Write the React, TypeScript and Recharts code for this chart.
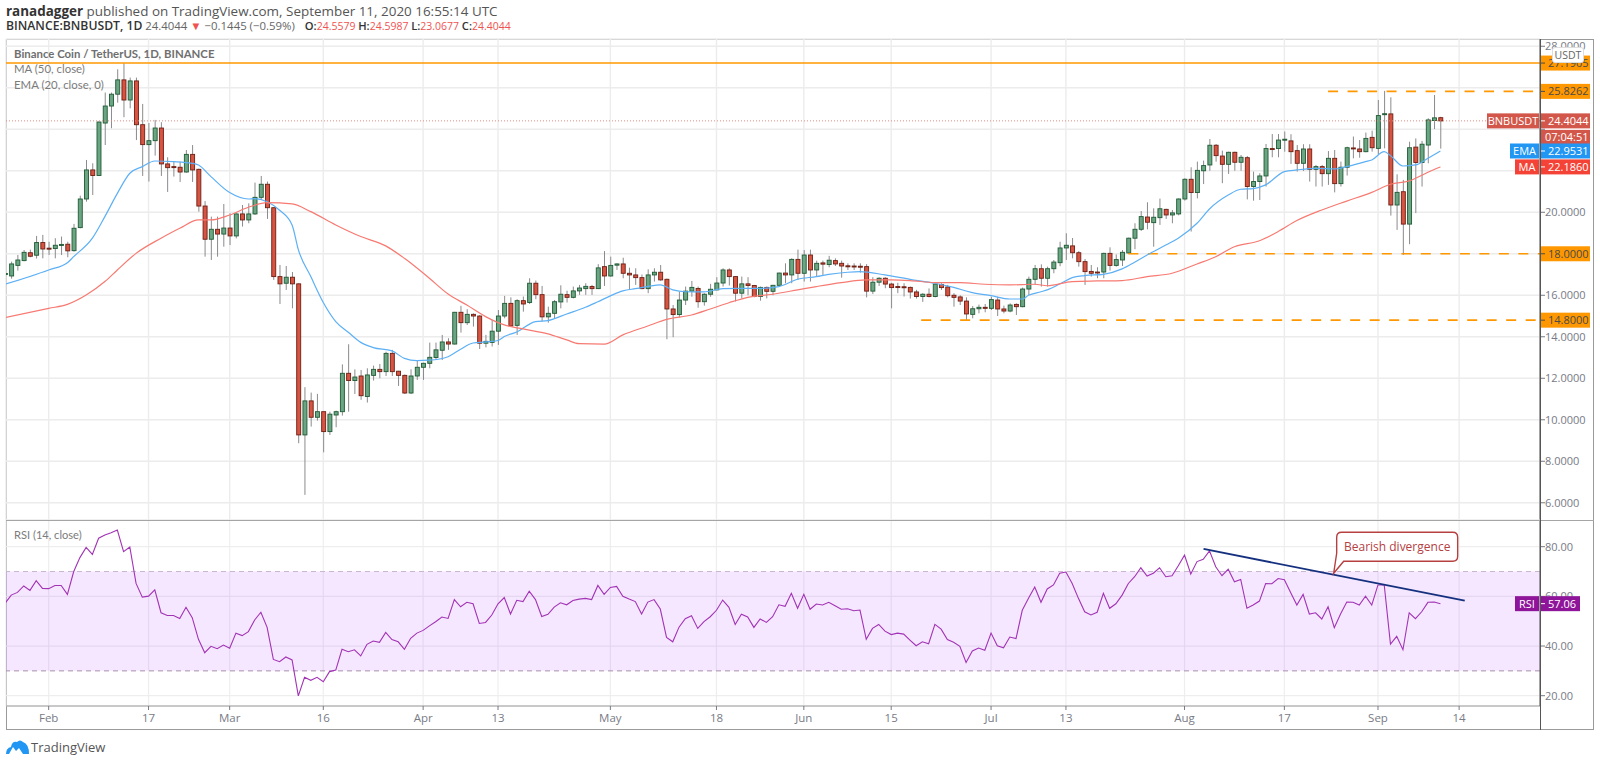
import React from "react";
import { ComposedChart, Bar, Line, XAxis, YAxis, CartesianGrid, ReferenceLine, ReferenceArea, ReferenceDot } from "recharts";

const FONT = "'Open Sans', 'Noto Sans', sans-serif";
const LEGEND_FONT = "Lato, 'Open Sans', sans-serif";
const firstDay = -7;
const xDomain: [number, number] = [-6.84, 238.96];
const priceDomain: [number, number] = [5.17, 28.35];
const rsiDomain: [number, number] = [15.85, 90.75];
const tickDays = [0, 16, 29, 44, 60, 72, 90, 107, 121, 135, 151, 163, 182, 198, 213, 226];
const tickLabels = ["Feb", "17", "Mar", "16", "Apr", "13", "May", "18", "Jun", "15", "Jul", "13", "Aug", "17", "Sep", "14"];
const priceTicks = [6, 8, 10, 12, 14, 16, 18, 20, 22, 24, 26, 28];
const coveredPriceTicks = [18, 22, 24, 26];
const rsiTicks = [20, 40, 60, 80];

const opens = [17.0,
  16.93,17.44,17.67,18.05,17.93,18.54,
  18.27,18.25,18.42,18.46,18.15,19.26,20.64,22.04,21.77,24.30,
  25.12,25.69,26.38,25.41,26.33,24.22,23.26,23.45,24.06,22.33,
  22.20,22.17,21.94,22.79,22.07,20.30,18.70,19.18,18.95,19.24,
  18.86,19.92,19.63,19.92,20.72,21.35,20.22,16.90,16.58,16.87,
  16.55,9.27,10.91,10.12,10.39,9.43,10.23,10.39,12.24,11.89,
  12.11,11.12,12.14,12.43,12.32,13.2,12.34,12.14,11.29,12.11,
  12.53,12.72,13.0,13.35,13.75,13.65,15.18,14.68,15.08,15.0,
  13.69,13.73,14.27,15.0,15.61,14.55,15.74,15.65,16.58,16.03,
  14.96,15.13,15.68,16.03,15.9,16.21,16.32,16.42,16.32,17.38,
  16.93,17.45,17.51,17.06,16.98,16.85,16.32,16.98,17.11,16.77,
  15.34,15.07,15.77,16.2,16.33,15.69,16.05,16.26,16.59,17.22,
  16.9,16.1,16.55,16.47,15.94,16.38,16.19,16.48,17.07,16.98,
  17.73,17.06,17.94,17.22,17.56,17.48,17.67,17.54,17.42,17.41,
  17.4,17.38,16.2,16.63,16.82,16.54,16.42,16.41,16.38,16.16,
  15.94,16.05,15.94,16.52,16.4,16.0,15.92,15.72,15.08,15.35,
  15.42,15.37,15.77,15.34,15.24,15.56,15.45,16.3,16.77,17.28,
  16.82,17.28,17.57,18.28,18.38,18.05,17.62,17.15,17.12,17.12,
  18.02,17.44,17.7,18.04,18.75,19.18,19.77,19.5,19.74,20.14,
  19.87,19.92,20.64,21.59,20.95,22.0,22.28,23.23,22.71,22.31,
  22.89,22.41,22.63,21.24,21.48,21.75,23.07,23.07,23.48,23.44,
  22.97,22.36,23.05,22.07,22.2,21.86,22.6,21.38,22.17,23.1,
  23.05,22.92,23.61,23.08,24.72,24.74,20.35,20.99,19.43,23.14,
  22.4,23.24,24.42,24.5579];

const closes = [17.05,
  17.51,17.70,18.07,17.88,18.54,18.23,
  18.25,18.41,18.45,18.14,19.23,20.64,22.04,21.77,24.35,25.12,
  25.69,26.38,25.41,26.33,24.22,23.26,23.45,24.06,22.33,22.15,
  22.17,21.94,22.79,22.04,20.30,18.70,19.18,18.95,19.24,18.86,
  19.92,19.63,19.92,20.72,21.35,20.22,16.90,16.55,16.87,16.55,
  9.27,10.91,10.12,10.39,9.43,10.27,10.39,12.24,11.89,12.06,
  11.16,12.16,12.43,12.32,13.2,12.32,12.14,11.29,12.11,12.53,
  12.72,13.01,13.37,13.75,13.65,15.18,14.68,15.08,15.0,13.69,
  13.78,14.27,15.0,15.61,14.52,15.74,15.58,16.58,16.03,14.96,
  15.13,15.69,16.05,15.9,16.21,16.35,16.43,16.32,17.32,16.93,
  17.44,17.51,17.06,16.98,16.85,16.32,16.98,17.11,16.74,15.34,
  15.07,15.77,16.2,16.38,15.69,16.05,16.29,16.59,17.22,16.9,
  16.1,16.55,16.47,15.94,16.38,16.19,16.48,17.07,16.98,17.73,
  17.06,17.94,17.22,17.54,17.5,17.69,17.51,17.41,17.4,17.4,
  17.38,16.2,16.63,16.82,16.54,16.37,16.38,16.38,16.16,15.94,
  16.05,15.94,16.54,16.37,15.98,15.9,15.72,15.1,15.35,15.42,
  15.37,15.79,15.34,15.24,15.53,15.45,16.3,16.77,17.28,16.82,
  17.28,17.6,18.28,18.41,18.05,17.62,17.14,17.06,17.08,18.02,
  17.44,17.72,18.07,18.75,19.18,19.79,19.52,19.76,20.17,19.87,
  19.97,20.64,21.59,20.95,22.02,22.25,23.23,22.73,22.31,22.89,
  22.41,22.65,21.24,21.48,21.75,23.07,23.05,23.48,23.52,22.92,
  22.36,23.05,22.07,22.2,21.86,22.6,21.38,22.17,23.11,23.08,
  22.92,23.56,23.11,24.66,24.75,20.35,20.96,19.43,23.11,22.4,
  23.28,24.45,24.55,24.4044];

const highs = [17.15,
  17.62,17.94,18.18,18.2,18.86,18.91,
  18.58,18.75,18.83,18.58,19.44,20.80,22.52,22.36,24.37,25.77,
  25.77,26.89,27.18,26.49,26.49,25.22,24.3,24.45,24.34,22.65,
  22.44,22.44,23.0,23.24,22.1,20.54,19.79,19.79,20.4,19.95,
  19.95,20.35,20.43,21.43,21.75,21.48,20.25,17.46,17.41,17.12,
  16.58,11.57,11.31,11.25,10.4,10.39,10.44,12.67,13.64,12.43,
  12.40,12.48,12.61,12.69,13.28,13.37,12.36,12.18,12.43,12.88,
  12.75,13.72,13.72,14.09,13.93,15.2,15.49,15.33,15.13,15.04,
  14.09,14.81,15.29,15.97,15.9,15.81,15.94,16.82,16.71,16.45,
  15.45,15.77,16.48,16.22,16.42,16.5,16.58,16.5,17.5,18.13,
  17.86,17.54,17.81,17.33,17.3,17.0,17.25,17.3,17.46,16.8,
  15.53,16.17,16.42,16.69,16.42,16.1,16.55,16.87,17.3,17.3,
  16.93,16.9,16.87,16.5,16.42,16.42,16.5,17.09,17.54,17.78,
  18.2,18.18,18.2,17.67,17.67,17.9,17.78,17.67,17.54,17.54,
  17.54,17.5,16.87,16.87,16.87,16.6,16.6,16.58,16.42,16.26,
  16.1,16.33,16.58,16.58,16.5,16.1,16.0,15.9,15.48,15.55,
  15.58,15.93,15.93,15.5,15.61,15.61,16.37,16.9,17.46,17.49,
  17.38,17.7,18.58,18.99,18.76,18.13,17.75,17.46,17.35,18.05,
  18.31,17.97,18.18,18.78,19.47,20.06,20.48,20.19,20.66,20.17,
  20.11,20.67,21.64,22.17,22.44,22.49,23.53,23.29,22.97,22.92,
  22.92,22.76,22.71,21.96,21.88,23.29,23.77,23.77,23.89,23.76,
  23.24,23.28,23.28,22.28,22.28,22.95,23.0,22.44,23.16,23.65,
  23.48,23.84,23.93,25.41,25.85,25.54,21.83,21.56,23.4,23.56,
  23.44,24.53,25.65,24.5987];

const lows = [16.9,
  16.80,17.19,17.64,17.83,17.77,17.78,
  17.94,17.78,17.94,17.83,18.10,19.23,20.51,20.83,21.75,23.24,
  24.05,25.28,24.58,25.01,23.48,21.75,21.48,22.73,21.75,20.98,
  21.72,21.46,21.91,21.46,20.03,17.86,17.70,17.86,18.34,18.42,
  18.74,19.31,19.47,19.87,20.59,19.68,16.74,15.58,16.26,15.37,
  8.87,6.38,9.67,9.96,8.43,9.27,9.64,10.2,10.39,11.24,
  10.96,10.83,11.89,12.0,12.11,12.11,11.63,11.24,11.24,11.92,
  11.92,12.48,12.88,12.88,13.37,13.63,14.2,14.57,14.49,13.41,
  13.49,13.53,13.61,14.89,14.49,14.09,15.21,15.58,15.81,14.73,
  14.68,14.89,15.37,15.65,15.85,16.02,16.02,16.02,16.3,16.45,
  16.90,17.22,16.82,16.26,16.5,16.29,16.1,16.66,16.7,13.88,
  13.98,14.94,15.53,15.93,15.4,15.5,15.93,16.24,16.42,16.47,
  15.7,15.85,16.0,15.9,15.74,15.85,16.0,16.42,16.58,16.58,
  16.74,16.66,16.66,16.9,16.98,17.35,17.41,16.85,17.22,17.22,
  17.09,15.9,16.06,16.45,16.34,15.37,16.1,15.94,15.84,15.84,
  15.68,15.9,15.9,16.26,15.9,15.45,15.53,14.81,14.89,15.13,
  15.18,15.29,15.0,15.13,15.18,15.05,15.42,16.0,16.5,16.42,
  16.42,17.06,17.4,17.7,17.78,17.38,16.5,16.9,16.82,16.82,
  17.19,17.38,17.41,17.99,18.22,19.1,19.18,18.34,19.39,19.68,
  19.47,19.85,20.56,19.07,20.67,21.36,22.0,22.44,21.4,21.85,
  22.0,22.0,20.62,20.56,20.59,21.24,22.65,22.65,22.92,22.33,
  21.96,21.99,21.48,21.24,21.24,21.32,20.96,21.24,21.77,22.6,
  22.63,22.89,22.92,22.79,23.08,19.84,19.15,17.94,18.46,19.96,
  21.24,22.36,24.01,23.0677];

const rsiValues = [57.2,
  60.5,61.6,64.2,62.4,66.3,63.2,
  63.1,64.4,64.4,60.8,69.9,75.6,79.7,76.9,83.4,84.7,
  85.6,86.7,78,79.9,65.2,59.7,60.1,62.6,53.4,52.3,
  52.3,51.1,55.6,51.4,42.7,37.3,39.9,38.9,40.4,39.1,
  45.2,44.2,45.8,50.5,53.6,47.5,34.6,33.7,35.6,34.4,
  19.9,27.4,26.2,27.4,25.6,29.7,30.3,38.7,37.7,38.5,
  36,40.7,42,41.5,45.5,42.6,41.7,38.7,43.1,45.2,
  46.3,48.1,49.8,51.7,51.1,58.7,55.8,57.6,57,49.1,
  49.5,52.5,57,59.5,52.9,58.4,57.9,62.1,58.7,51.9,
  52.8,55.7,57.4,56.6,58.3,58.9,59.2,58.7,64.4,60.8,
  63.6,64,60,58.9,57.9,52.9,57.7,58.7,54.9,43.5,
  41.7,47.6,51,52.2,47.1,49.8,51.8,54.4,58.5,55.6,
  48.7,52.8,51.7,47.5,50.9,49.5,51.8,56.6,56,61.2,
  55.2,60.8,54.8,56.9,56.5,57.6,56.2,54.8,55,54.2,
  54.5,42.7,47.1,48.7,46,44.6,45.2,44.8,42.4,40.1,
  41.7,40.9,48.7,46.8,42.6,41.5,39.9,33.4,38,39.2,
  38.3,45.2,40.1,39.3,43.6,43,54.4,59.2,63.8,57.6,
  63,64.6,69.3,69.8,65.2,59.2,53.8,52.5,53.6,61.2,
  55.2,57,60.5,65.2,67.9,71.5,68.2,69.3,71.5,67.9,
  68.3,72.3,76.6,69,74,74.9,78.3,71.9,68.3,70.9,
  65.9,66.8,55.2,56.5,58.1,65.2,65.1,67.2,66.7,61.6,
  56.5,60.8,52.9,53.4,50.9,55.8,47.4,52.9,57.7,57.6,
  56.5,60.1,56.5,64.6,64.6,40.8,43.9,38.5,53.4,51,
  53.8,57.6,57.7,57.06];

const emaDays = [-7,0,3,4,7,9,11,13,15,17,20,23,24,26,29,32,33,35,37,39,40,42,44,46,48,50,52,55,57,59,61,64,66,68,70,72,73,75,78,80,83,86,88,90,92,94,96,98,100,102,105,108,111,114,117,120,123,125,128,130,134,138,142,145,148,151,154,156,157,159,160,162,164,166,169,172,174,176,179,181,184,186,189,191,193,195,198,200,203,206,208,211,212,214,215,217,219,221,223];
const emaValues = [16.53,17.22,17.57,17.86,18.75,19.79,20.91,21.88,22.2,22.47,22.44,22.36,22.28,21.72,20.95,20.64,20.66,20.51,20.1,19.39,18.2,16.9,15.65,14.73,14.22,13.73,13.48,13.32,12.96,12.85,12.87,13.04,13.4,13.7,13.75,13.82,14.01,14.23,14.73,14.78,15.1,15.42,15.69,15.97,16.21,16.32,16.42,16.5,16.26,16.17,16.16,16.32,16.33,16.33,16.42,16.77,16.9,17.01,17.11,17.14,16.98,16.77,16.58,16.38,16.13,15.98,15.82,15.82,16.0,16.17,16.26,16.54,16.85,16.95,17.01,17.27,17.59,17.94,18.42,18.75,19.47,20.16,20.83,21.11,21.14,21.32,21.96,22.04,22.12,22.09,22.2,22.44,22.52,22.92,22.73,22.23,22.28,22.6,22.9531];

const maDays = [-7,0,3,6,9,11,14,18,21,24,26,29,32,35,39,42,46,50,54,57,61,64,67,70,73,76,80,83,85,89,92,96,99,103,106,109,112,116,120,123,127,131,135,138,142,146,150,154,158,160,164,168,172,176,180,184,187,190,194,197,200,204,208,212,215,218,221,223];
const maValues = [14.92,15.37,15.56,16.01,16.66,17.22,18.02,18.75,19.23,19.63,19.63,19.87,20.24,20.46,20.4,20.03,19.39,18.83,18.38,17.78,16.82,16.06,15.53,14.97,14.57,14.38,14.14,13.85,13.67,13.65,14.09,14.52,14.84,15.05,15.34,15.64,15.9,16.05,16.26,16.42,16.61,16.74,16.74,16.71,16.61,16.61,16.53,16.5,16.53,16.46,16.66,16.69,16.71,16.9,17.06,17.51,17.86,18.34,18.63,19.07,19.6,20.11,20.54,20.96,21.35,21.51,21.93,22.186];

const emaByDay = new Map(emaDays.map((d, i) => [d, emaValues[i]]));
const maByDay = new Map(maDays.map((d, i) => [d, maValues[i]]));

const rows = opens.map((open, i) => {
  const d = firstDay + i;
  return { d, open, close: closes[i], high: highs[i], low: lows[i], rsi: rsiValues[i], ema: emaByDay.get(d), ma: maByDay.get(d) };
});

const UP_FILL = "#6ba583", UP_EDGE = "#1f5a34", DOWN_FILL = "#d75442", DOWN_EDGE = "#6d1e13", WICK = "#8b8b8d";

function Candle(props: any) {
  const { x, y, width, height, payload } = props;
  if (!payload || height == null) return null;
  const { open, close, high, low } = payload;
  const cx = x + width / 2;
  const py = (p: number) => y + ((high - p) / (high - low)) * height;
  const top = py(Math.max(open, close));
  const bot = py(Math.min(open, close));
  const up = close >= open;
  return (
    <g>
      <line x1={cx} x2={cx} y1={y} y2={y + height} stroke={WICK} strokeWidth={1} />
      <rect x={cx - 2} y={top} width={4} height={Math.max(bot - top, 1)} fill={up ? UP_FILL : DOWN_FILL} stroke={up ? UP_EDGE : DOWN_EDGE} strokeWidth={0.9} />
    </g>
  );
}

function Tag(p: any) {
  const { cx, cy, text, fill, color = "#fff", left, w = 50, extra } = p;
  const h = 15;
  return (
    <g>
      {left && <rect x={cx - left.w - 1} y={cy - h / 2} width={left.w} height={h} fill={fill} />}
      {left && <text x={cx - left.w / 2 - 1} y={cy + 4} textAnchor="middle" fontSize={11} fontFamily={FONT} fill={color}>{left.text}</text>}
      <rect x={cx} y={cy - h / 2} width={w} height={h} fill={fill} />
      <line x1={cx} x2={cx + 5} y1={cy} y2={cy} stroke={color} strokeWidth={1} />
      <text x={cx + 8} y={cy + 4} fontSize={11} fontFamily={FONT} fill={color}>{text}</text>
      {extra && <rect x={cx} y={cy + h / 2 + 1.5} width={w} height={h} fill={fill} />}
      {extra && <text x={cx + 5} y={cy + h / 2 + 13} fontSize={11} fontFamily={FONT} fill={color}>{extra}</text>}
    </g>
  );
}

function Callout(p: any) {
  const { cx, cy } = p;
  const L = cx + 3, R = cx + 124, T = cy - 41, B = cy - 12, r = 5;
  const d = `M${cx} ${cy} L${L} ${cy - 20} L${L} ${T + r} Q${L} ${T} ${L + r} ${T} L${R - r} ${T} Q${R} ${T} ${R} ${T + r} L${R} ${B - r} Q${R} ${B} ${R - r} ${B} L${cx + 10} ${B} Z`;
  return (
    <g>
      <path d={d} fill="#fff" stroke="#b5403f" strokeWidth={1.4} />
      <text x={(L + R) / 2} y={cy - 22} textAnchor="middle" fontSize={12} fontFamily={FONT} fill="#b5403f">Bearish divergence</text>
    </g>
  );
}

const tickStyle = { fontSize: 11, fontFamily: FONT, fill: "#787b86" };
const xTickStyle = { fontSize: 11.5, fontFamily: FONT, fill: "#787b86" };
const GRID = "#ececec";
const ORANGE = "#ff9800";
const TAG_TEXT = "#4a4a4a";
const xEnd = xDomain[1];
const full: React.CSSProperties = { position: "absolute", left: 0, top: 0 };

function PriceChart() {
  return (
    <ComposedChart width={1600} height={763} data={rows} margin={{ top: 39, right: 6, bottom: 243, left: 6 }} style={full}>
      <CartesianGrid stroke={GRID} strokeWidth={1.4} />
      <XAxis dataKey="d" type="number" domain={xDomain} ticks={tickDays} hide allowDataOverflow interval={0} />
      <YAxis orientation="right" width={54} domain={priceDomain} ticks={priceTicks} interval={0} allowDataOverflow
        tickFormatter={(v: number) => (coveredPriceTicks.includes(v) ? "" : v.toFixed(4))} tick={tickStyle} tickSize={5} tickMargin={0}
        stroke="#555" tickLine={{ stroke: "#787b86" }} />
      <ReferenceLine y={27.1905} stroke={ORANGE} strokeWidth={1.6} />
      <ReferenceLine y={24.4044} stroke="#e58a80" strokeWidth={1} strokeDasharray="1 2" />
      <ReferenceLine segment={[{ x: 205.0, y: 25.8262 }, { x: xEnd, y: 25.8262 }]} stroke={ORANGE} strokeWidth={1.6} strokeDasharray="10 9.5" />
      <ReferenceLine segment={[{ x: 173, y: 18 }, { x: xEnd, y: 18 }]} stroke={ORANGE} strokeWidth={1.6} strokeDasharray="10 9.5" />
      <ReferenceLine segment={[{ x: 139.8, y: 14.8 }, { x: xEnd, y: 14.8 }]} stroke={ORANGE} strokeWidth={1.6} strokeDasharray="10 9.5" />
      <Bar dataKey={(r: any) => [r.low, r.high]} barSize={5} shape={<Candle />} isAnimationActive={false} />
      <Line dataKey="ema" stroke="#5db0f5" strokeWidth={1.2} dot={false} connectNulls isAnimationActive={false} type="monotone" />
      <Line dataKey="ma" stroke="#f77a72" strokeWidth={1.2} dot={false} connectNulls isAnimationActive={false} type="monotone" />
    </ComposedChart>
  );
}

function RsiChart() {
  return (
    <ComposedChart width={1600} height={763} data={rows} margin={{ top: 520, right: 6, bottom: 33, left: 6 }} style={full}>
      <ReferenceArea y1={30} y2={70} fill="#9915ff" fillOpacity={0.1} stroke="none" ifOverflow="visible" />
      <CartesianGrid stroke={GRID} strokeWidth={1.2} strokeOpacity={0.9} />
      <XAxis dataKey="d" type="number" domain={xDomain} ticks={tickDays} interval={0} allowDataOverflow height={24}
        tickFormatter={(v: number) => tickLabels[tickDays.indexOf(v)]} tick={xTickStyle} tickSize={4} tickMargin={4}
        stroke="#9a9a9a" tickLine={{ stroke: "#787b86" }} />
      <YAxis orientation="right" width={54} domain={rsiDomain} ticks={rsiTicks} interval={0} allowDataOverflow
        tickFormatter={(v: number) => v.toFixed(2)} tick={tickStyle} tickSize={5} tickMargin={0}
        stroke="#555" tickLine={{ stroke: "#787b86" }} />
      <ReferenceLine y={70} stroke="#c9b6d0" strokeDasharray="5 4" />
      <ReferenceLine y={30} stroke="#a98fb0" strokeDasharray="5 4" />
      <Line dataKey="rsi" stroke="#a233b5" strokeWidth={1.1} dot={false} isAnimationActive={false} type="linear" />
      <ReferenceLine segment={[{ x: 185.05, y: 79.1 }, { x: 226.9, y: 58.3 }]} stroke="#14307e" strokeWidth={1.8} />
      <ReferenceDot x={205.9} y={69.3} r={0} ifOverflow="visible" shape={(p: any) => <Callout {...p} />} />
    </ComposedChart>
  );
}

// Price tags sit above the axis labels, so they get their own top layer on the same scales.
function PriceTags() {
  return (
    <ComposedChart width={1600} height={763} data={rows} margin={{ top: 39, right: 60, bottom: 243, left: 6 }} style={full}>
      <XAxis dataKey="d" type="number" domain={xDomain} hide allowDataOverflow />
      <YAxis domain={priceDomain} hide allowDataOverflow />
      <ReferenceDot x={xEnd} y={27.1905} r={0} ifOverflow="visible" shape={(p: any) => <Tag {...p} text="27.1905" fill={ORANGE} color={TAG_TEXT} />} />
      <ReferenceDot x={xEnd} y={25.8262} r={0} ifOverflow="visible" shape={(p: any) => <Tag {...p} text="25.8262" fill={ORANGE} color={TAG_TEXT} />} />
      <ReferenceDot x={xEnd} y={18} r={0} ifOverflow="visible" shape={(p: any) => <Tag {...p} text="18.0000" fill={ORANGE} color={TAG_TEXT} />} />
      <ReferenceDot x={xEnd} y={14.8} r={0} ifOverflow="visible" shape={(p: any) => <Tag {...p} text="14.8000" fill={ORANGE} color={TAG_TEXT} />} />
      <ReferenceDot x={xEnd} y={24.4044} r={0} ifOverflow="visible" shape={(p: any) => <Tag {...p} text="24.4044" fill="#d2574a" left={{ text: "BNBUSDT", w: 52 }} extra="07:04:51" />} />
      <ReferenceDot x={xEnd} y={22.9531} r={0} ifOverflow="visible" shape={(p: any) => <Tag {...p} text="22.9531" fill="#2196f3" left={{ text: "EMA", w: 29 }} />} />
      <ReferenceDot x={xEnd} y={22.186} r={0} ifOverflow="visible" shape={(p: any) => <Tag {...p} text="22.1860" fill="#f44336" left={{ text: "MA", w: 24 }} />} />
    </ComposedChart>
  );
}

function RsiTags() {
  return (
    <ComposedChart width={1600} height={763} data={rows} margin={{ top: 520, right: 60, bottom: 57, left: 6 }} style={full}>
      <XAxis dataKey="d" type="number" domain={xDomain} hide allowDataOverflow />
      <YAxis domain={rsiDomain} hide allowDataOverflow />
      <ReferenceDot x={xEnd} y={57.06} r={0} ifOverflow="visible" shape={(p: any) => <Tag {...p} text="57.06" fill="#8e1599" w={40} left={{ text: "RSI", w: 24 }} />} />
    </ComposedChart>
  );
}

const abs = (left: number, top: number, extra: any = {}): React.CSSProperties => ({
  position: "absolute", left, top, fontFamily: FONT, whiteSpace: "nowrap", lineHeight: "16px", ...extra,
});
const legend = { color: "#7b7b7b", fontSize: 11.4, fontFamily: LEGEND_FONT };
const headKey = { color: "#333", fontWeight: 600, fontSize: 11.2 };
const headRed = { color: "#ef5350" };

export default function App() {
  return (
    <div style={{ position: "fixed", left: 0, top: 0, width: 1600, height: 763, background: "#fff", overflow: "hidden" }}>
      <div style={abs(6, 3, { fontSize: 13.45, color: "#555" })}>
        <b style={{ color: "#333" }}>ranadagger</b> published on TradingView.com, September 11, 2020 16:55:14 UTC
      </div>
      <div style={abs(6, 18, { fontSize: 11.4, color: "#666" })}>
        <span style={{ ...headKey, fontSize: 12.2 }}>BINANCE:BNBUSDT, 1D</span> 24.4044 <span style={headRed}>▼</span> −0.1445 (−0.59%) <span style={{ fontSize: 10.5, marginLeft: 7 }}><span style={headKey}>O:</span><span style={headRed}>24.5579</span> <span style={headKey}>H:</span><span style={headRed}>24.5987</span> <span style={headKey}>L:</span><span style={headRed}>23.0677</span> <span style={headKey}>C:</span><span style={headRed}>24.4044</span></span>
      </div>
      <div style={{ position: "absolute", left: 6, top: 39, width: 1588, height: 691, border: "1px solid #9a9a9a", boxSizing: "border-box" }} />
      <PriceChart />
      <RsiChart />
      <PriceTags />
      <RsiTags />
      <div style={{ position: "absolute", left: 6, top: 520, width: 1534, height: 1, background: "#a5a5a5" }} />
      <div style={{ position: "absolute", left: 1540, top: 520, width: 54, height: 1, background: "#a5a5a5" }} />
      <div style={{ position: "absolute", left: 1540, top: 39, width: 1, height: 691, background: "#555" }} />
      <div style={abs(14, 46, { ...legend, fontWeight: 700, color: "#6f6f6f" })}>Binance Coin / TetherUS, 1D, BINANCE</div>
      <div style={abs(14, 61, legend)}>MA (50, close)</div>
      <div style={abs(14, 77, legend)}>EMA (20, close, 0)</div>
      <div style={abs(14, 527, { ...legend, fontSize: 11.1 })}>RSI (14, close)</div>
      <div style={abs(1552, 47, { width: 30, height: 14, lineHeight: "14px", fontSize: 10.5, color: "#666", background: "#fff", border: "1px solid #ddd", borderRadius: 3, textAlign: "center" })}>USDT</div>
      <svg style={{ position: "absolute", left: 6, top: 739 }} width={23} height={15} viewBox="0 0 23 15">
        <path d="M0 15 Q0 9 5 8 Q6 2 11 3 Q14 0 17 3 Q23 5 23 15 L17 15 L13 9 L10 12 L7 8 L3 15 Z" fill="#2196f3" />
      </svg>
      <div style={abs(31, 739, { fontSize: 13, color: "#555" })}>TradingView</div>
    </div>
  );
}
